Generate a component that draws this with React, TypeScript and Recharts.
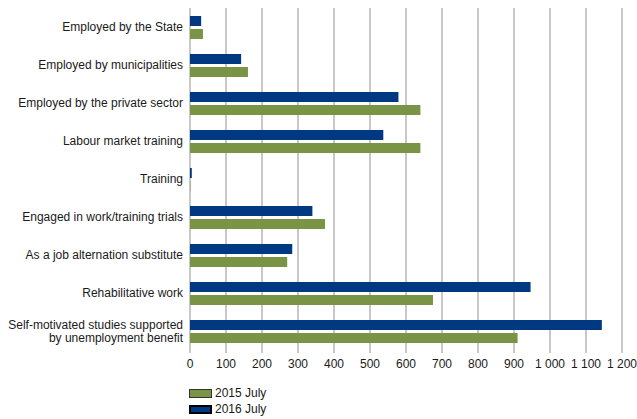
import { Bar, BarChart, CartesianGrid, XAxis, YAxis } from "recharts";

const categories = [
  "Employed by the State",
  "Employed by municipalities",
  "Employed by the private sector",
  "Labour market training",
  "Training",
  "Engaged in work/training trials",
  "As a job alternation substitute",
  "Rehabilitative work",
  "Self-motivated studies supported\nby unemployment benefit",
];

const july2015 = [36, 161, 640, 640, 1, 375, 270, 675, 910];
const july2016 = [31, 142, 579, 537, 5, 340, 284, 946, 1144];

const xTicks = [0, 100, 200, 300, 400, 500, 600, 700, 800, 900, 1000, 1100, 1200];

const GREEN = "#7a9445";
const BLUE = "#003882";
const FONT = "'Liberation Sans', Arial, sans-serif";

const data = categories.map((name, i) => ({
  name,
  y2015: july2015[i],
  y2016: july2016[i],
}));

const fmt = (v: number) =>
  v >= 1000 ? `${Math.floor(v / 1000)} ${String(v % 1000).padStart(3, "0")}` : String(v);

function CategoryTick(props: any) {
  const { x, y, payload } = props;
  const lines = String(payload.value).split("\n");
  const start = -((lines.length - 1) * 13) / 2;
  return (
    <text x={x} y={y} textAnchor="end" fontSize={12} fill="#1a1a1a" fontFamily={FONT}>
      {lines.map((l, i) => (
        <tspan key={i} x={x} dy={i === 0 ? start + 4 : 13}>
          {l}
        </tspan>
      ))}
    </text>
  );
}

export default function App() {
  return (
    <div style={{ position: "absolute", left: 0, top: 0, width: 637, height: 419, background: "#fff", fontFamily: FONT }}>
      <BarChart
        width={637}
        height={419}
        data={data}
        layout="vertical"
        margin={{ top: 8, right: 15, left: 0, bottom: 39 }}
        barSize={10}
        barGap={3}
      >
        <CartesianGrid horizontal={false} stroke="#c8c8c8" strokeWidth={2} />
        <XAxis
          type="number"
          domain={[0, 1200]}
          ticks={xTicks}
          tickFormatter={fmt}
          axisLine={false}
          tickLine={{ stroke: "#c8c8c8", strokeWidth: 2 }}
          tickSize={3}
          tickMargin={6}
          height={30}
          tick={{ fontSize: 12, fill: "#1a1a1a", fontFamily: FONT }}
          interval={0}
        />
        <YAxis
          type="category"
          dataKey="name"
          width={190}
          axisLine={false}
          tickLine={false}
          tickSize={0}
          tickMargin={7}
          interval={0}
          tick={<CategoryTick />}
        />
        <Bar dataKey="y2016" fill={BLUE} isAnimationActive={false} />
        <Bar dataKey="y2015" fill={GREEN} isAnimationActive={false} />
      </BarChart>
      <div style={{ position: "absolute", left: 189, top: 385, fontSize: 12, color: "#1a1a1a", lineHeight: "16px" }}>
        {[
          { label: "2015 July", color: GREEN, border: "1px solid #333" },
          { label: "2016 July", color: BLUE, border: "2px solid #000" },
        ].map((it) => (
          <div key={it.label} style={{ display: "flex", alignItems: "center", height: 16 }}>
            <span
              style={{
                display: "inline-block",
                width: 23,
                height: 9,
                background: it.color,
                border: it.border,
                boxSizing: "border-box",
                marginRight: 3,
              }}
            />
            {it.label}
          </div>
        ))}
      </div>
    </div>
  );
}
